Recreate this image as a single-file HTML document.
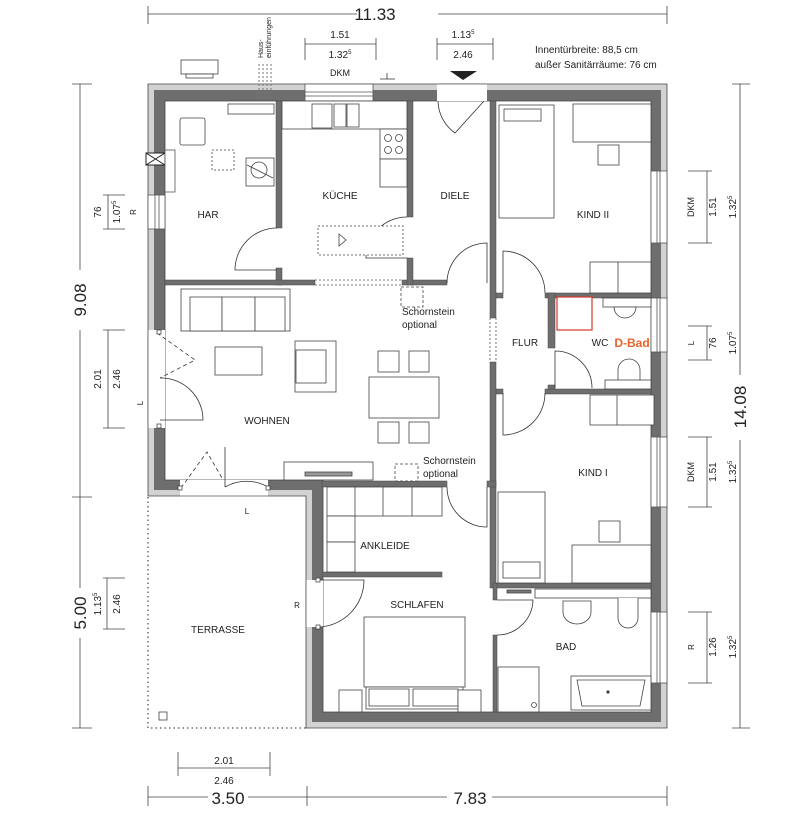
<!DOCTYPE html>
<html><head><meta charset="utf-8"><style>
html,body{margin:0;padding:0;background:#fff;}
svg{display:block;font-family:"Liberation Sans",sans-serif;}
</style></head><body>
<svg width="800" height="819" viewBox="0 0 800 819" xmlns="http://www.w3.org/2000/svg">
<g stroke="#444" stroke-width="0.8">
<polygon points="148,84 667,84 667,728 306,728 306,496 148,496" fill="#d2d2d2"/>
<polygon points="154,90 661,90 661,722 312,722 312,490 154,490" fill="#6e6e6e" stroke="none"/>
<polygon points="165,101 651,101 651,712 323,712 323,480 165,480" fill="#fff"/>
</g>
<g fill="#fff" stroke="#555" stroke-width="0.8">
<rect x="148" y="195" width="17" height="34"/>
<line x1="155" y1="195" x2="155" y2="229"/><line x1="159" y1="195" x2="159" y2="229"/>
<rect x="148" y="330" width="17" height="98" stroke="none"/>
<line x1="148" y1="330" x2="148" y2="428"/>
<rect x="180" y="480" width="88" height="17" stroke="none"/>
<line x1="180" y1="496" x2="268" y2="496"/>
<rect x="305" y="84" width="68" height="17"/>
<line x1="305" y1="92" x2="373" y2="92"/><line x1="305" y1="96" x2="373" y2="96"/>
<rect x="437" y="84" width="50" height="17" stroke="none"/>
<line x1="437" y1="84" x2="487" y2="84"/>
<rect x="651" y="171" width="16" height="72"/>
<rect x="651" y="298" width="16" height="54"/>
<rect x="651" y="437" width="16" height="70"/>
<rect x="651" y="612" width="16" height="71"/>
<line x1="657" y1="171" x2="657" y2="243"/><line x1="660" y1="171" x2="660" y2="243"/>
<line x1="657" y1="298" x2="657" y2="352"/><line x1="660" y1="298" x2="660" y2="352"/>
<line x1="657" y1="437" x2="657" y2="507"/><line x1="660" y1="437" x2="660" y2="507"/>
<line x1="657" y1="612" x2="657" y2="683"/><line x1="660" y1="612" x2="660" y2="683"/>
<rect x="306" y="580" width="17" height="47" stroke="none"/>
<line x1="306" y1="580" x2="306" y2="627"/>
</g>
<rect x="146" y="153" width="19" height="12" fill="#fff" stroke="#222"/>
<path d="M146,153 L165,165 M146,165 L165,153" stroke="#222" stroke-width="1"/>
<rect x="165" y="150" width="10" height="42" fill="#fff" stroke="#555" stroke-width="0.8"/>
<g fill="#6e6e6e" stroke="#444" stroke-width="0.5">
<rect x="276" y="101" width="6" height="127"/>
<rect x="276" y="268" width="6" height="17"/>
<rect x="165" y="280" width="150" height="5"/>
<rect x="402" y="280" width="45" height="5"/>
<rect x="407" y="101" width="6" height="116"/>
<rect x="407" y="258" width="6" height="27"/>
<rect x="490" y="101" width="6" height="217"/>
<rect x="490" y="362" width="6" height="226"/>
<rect x="545" y="293" width="106" height="5"/>
<rect x="496" y="293" width="7" height="5"/>
<rect x="548" y="293" width="7" height="55"/>
<rect x="548" y="385" width="7" height="8"/>
<rect x="545" y="389" width="106" height="5"/>
<rect x="496" y="389" width="7" height="5"/>
<rect x="496" y="583" width="155" height="5"/>
<rect x="493" y="583" width="4" height="17"/>
<rect x="493" y="635" width="4" height="77"/>
<rect x="322" y="481" width="125" height="6"/>
<rect x="487" y="481" width="9" height="6"/>
<rect x="322" y="572" width="120" height="5"/>
</g>
<g stroke="#555" stroke-width="0.8" stroke-dasharray="2,2" fill="none">
<line x1="315" y1="280" x2="402" y2="280"/><line x1="315" y1="285" x2="402" y2="285"/>
<line x1="490" y1="318" x2="490" y2="362"/><line x1="496" y1="318" x2="496" y2="362"/>
</g>
<polyline points="148,497 148,728 306,728" fill="none" stroke="#555" stroke-width="1.3" stroke-dasharray="1.5,3"/>
<g fill="none" stroke="#333" stroke-width="0.8">
<path d="M277,228 A42,42 0 0 0 235,270 L277,270"/>
<path d="M407,217 A41,41 0 0 0 366,258 L407,258"/>
<path d="M447,283 A40,40 0 0 1 487,243 L487,283"/>
<path d="M438,101 A40,40 0 0 0 455,133 L484,101"/>
<path d="M503,293 L503,251 A42,42 0 0 1 545,293"/>
<path d="M555,388 L555,351 A37,37 0 0 1 592,388"/>
<path d="M545,393 A42,42 0 0 1 503,435 L503,393"/>
<path d="M447,487 A40,40 0 0 0 487,527 L487,487"/>
<path d="M497,635 A36,36 0 0 0 533,600 L497,600"/>
<path d="M317,627 A47,47 0 0 0 364,580 L317,580"/>
<path d="M160,378 A42,42 0 0 1 203,420 L160,420"/>
<path d="M268,487 A43,43 0 0 0 225,487"/>
<path d="M225,487 L225,447" />
<path d="M157,333 L195,360 L160,378" stroke-dasharray="4,3"/>
<path d="M181,488 L207,452 L222,478" stroke-dasharray="4,3"/>
</g>
<g fill="#fff" stroke="#333" stroke-width="0.7">
<rect x="157" y="330" width="4" height="4"/><rect x="157" y="424" width="4" height="4"/>
<rect x="178" y="486" width="4" height="4"/><rect x="266" y="486" width="4" height="4"/>
<rect x="316" y="578" width="4" height="4"/><rect x="316" y="625" width="4" height="4"/>
</g>
<g fill="#fff" stroke="#444" stroke-width="0.8">
<rect x="180" y="118" width="25" height="27" rx="2"/>
<rect x="212" y="150" width="22" height="20" stroke-dasharray="2,2"/>
<rect x="246" y="158" width="28" height="28"/>
<circle cx="259" cy="170" r="8"/>
<line x1="247" y1="165" x2="273" y2="178"/>
<rect x="228" y="104" width="46" height="10"/>
<rect x="282" y="101" width="125" height="28"/>
<rect x="312" y="104" width="20" height="24"/>
<rect x="334" y="104" width="12" height="23"/><rect x="347" y="104" width="12" height="23"/>
<rect x="380" y="129" width="27" height="30"/>
<circle cx="388" cy="138" r="3.5"/><circle cx="399" cy="138" r="3.5"/>
<circle cx="388" cy="150" r="3.5"/><circle cx="399" cy="150" r="3.5"/>
<rect x="380" y="159" width="27" height="28"/>
<rect x="318" y="226" width="85" height="29" stroke-dasharray="2,2"/>
<path d="M339,234 L346,240 L339,246 Z"/>
<rect x="181" y="289" width="109" height="42"/>
<rect x="190" y="297" width="32" height="34"/><rect x="222" y="297" width="33" height="34"/><rect x="255" y="297" width="30" height="34"/>
<rect x="215" y="347" width="47" height="28"/>
<rect x="295" y="341" width="41" height="51"/>
<rect x="296" y="350" width="30" height="33"/>
<rect x="369" y="377" width="70" height="41"/>
<rect x="378" y="351" width="21" height="21"/><rect x="409" y="351" width="20" height="21"/>
<rect x="378" y="422" width="21" height="21"/><rect x="409" y="422" width="20" height="21"/>
<rect x="284" y="462" width="89" height="18"/>
<rect x="305" y="472" width="47" height="4" fill="#999"/>
<rect x="401" y="287" width="22" height="20" stroke-dasharray="3,2"/>
<rect x="395" y="464" width="23" height="17" stroke-dasharray="3,2"/>
<rect x="499" y="105" width="55" height="113"/>
<rect x="504" y="109" width="37" height="12"/>
<rect x="573" y="104" width="78" height="38"/>
<rect x="598" y="145" width="21" height="20"/>
<rect x="590" y="262" width="61" height="31"/><line x1="618" y1="262" x2="618" y2="293"/>
<rect x="557" y="297" width="35" height="33" stroke="#d63a2a" stroke-width="1.2"/>
<rect x="603" y="298" width="48" height="9"/>
<path d="M614,307 L636,307 A11,11 0 0 1 614,307 Z"/>
<path d="M618,388 L618,370 A11,11 0 0 1 640,370 L640,388"/>
<rect x="605" y="380" width="46" height="9"/>
<rect x="590" y="395" width="64" height="30"/><line x1="617" y1="395" x2="617" y2="425"/>
<rect x="498" y="492" width="47" height="91"/>
<rect x="503" y="562" width="37" height="16"/>
<rect x="599" y="521" width="21" height="21"/>
<rect x="572" y="545" width="79" height="38"/>
<rect x="327" y="487" width="115" height="29"/>
<line x1="355" y1="487" x2="355" y2="516"/><line x1="383" y1="487" x2="383" y2="516"/><line x1="412" y1="487" x2="412" y2="516"/>
<rect x="327" y="516" width="28" height="26"/><rect x="327" y="542" width="28" height="30"/>
<rect x="364" y="617" width="101" height="70"/>
<rect x="366" y="687" width="97" height="22"/>
<rect x="369" y="689" width="40" height="17"/><rect x="413" y="689" width="45" height="17"/>
<rect x="339" y="690" width="23" height="22"/><rect x="458" y="690" width="23" height="22"/>
<rect x="535" y="589" width="116" height="9"/>
<rect x="507" y="590" width="24" height="3" fill="#777"/>
<path d="M563,601 L591,601 L591,612 A14,12 0 0 1 563,612 Z"/>
<path d="M618,598 L618,618 A10,10 0 0 0 638,618 L638,598"/>
<rect x="498" y="667" width="41" height="45"/>
<circle cx="534" cy="705" r="2.5"/>
<rect x="571" y="676" width="80" height="34"/>
<path d="M577,680 L645,680 L640,706 L582,706 Z"/>
<circle cx="608" cy="692" r="1.2" fill="#333"/>
<rect x="159" y="712" width="8" height="8"/>
</g>
<rect x="181" y="60" width="37" height="14" fill="#fff" stroke="#444" stroke-width="0.8"/>
<rect x="186" y="74" width="27" height="4" fill="#fff" stroke="#444" stroke-width="0.8"/>
<g stroke="#777" stroke-width="1" stroke-dasharray="2,2">
<line x1="259" y1="64" x2="259" y2="100"/><line x1="263" y1="64" x2="263" y2="100"/>
<line x1="267" y1="64" x2="267" y2="100"/><line x1="271" y1="64" x2="271" y2="100"/>
</g>
<path d="M450,71 L477,71 L463,80 Z" fill="#222"/>
<path d="M380,79 L395,79 M387,73 L387,79" stroke="#333" stroke-width="0.8"/>
<g stroke="#444" stroke-width="0.8" fill="none">
<line x1="148" y1="14" x2="357" y2="14"/><line x1="438" y1="14" x2="667" y2="14"/>
<line x1="148" y1="6" x2="148" y2="24"/><line x1="667" y1="6" x2="667" y2="24"/>
<line x1="305" y1="44" x2="376" y2="44"/><line x1="305" y1="38" x2="305" y2="60"/><line x1="376" y1="38" x2="376" y2="60"/>
<line x1="437" y1="44" x2="493" y2="44"/><line x1="437" y1="38" x2="437" y2="60"/><line x1="493" y1="38" x2="493" y2="60"/>
<line x1="80" y1="84" x2="80" y2="270"/><line x1="80" y1="330" x2="80" y2="588"/><line x1="80" y1="638" x2="80" y2="728"/>
<line x1="72" y1="84" x2="92" y2="84"/><line x1="72" y1="497" x2="92" y2="497"/><line x1="72" y1="728" x2="92" y2="728"/>
<line x1="108" y1="195" x2="108" y2="229"/><line x1="103" y1="195" x2="125" y2="195"/><line x1="103" y1="229" x2="125" y2="229"/>
<line x1="108" y1="330" x2="108" y2="428"/><line x1="103" y1="330" x2="125" y2="330"/><line x1="103" y1="428" x2="125" y2="428"/>
<line x1="107" y1="578" x2="107" y2="629"/><line x1="103" y1="578" x2="125" y2="578"/><line x1="103" y1="629" x2="125" y2="629"/>
<line x1="740" y1="84" x2="740" y2="375"/><line x1="740" y1="440" x2="740" y2="728"/>
<line x1="732" y1="84" x2="750" y2="84"/><line x1="732" y1="728" x2="750" y2="728"/>
<line x1="707" y1="171" x2="707" y2="243"/><line x1="688" y1="171" x2="712" y2="171"/><line x1="688" y1="243" x2="712" y2="243"/>
<line x1="707" y1="326" x2="707" y2="360"/><line x1="688" y1="326" x2="712" y2="326"/><line x1="688" y1="360" x2="712" y2="360"/>
<line x1="707" y1="437" x2="707" y2="507"/><line x1="688" y1="437" x2="712" y2="437"/><line x1="688" y1="507" x2="712" y2="507"/>
<line x1="707" y1="612" x2="707" y2="683"/><line x1="688" y1="612" x2="712" y2="612"/><line x1="688" y1="683" x2="712" y2="683"/>
<line x1="178" y1="768" x2="270" y2="768"/><line x1="178" y1="752" x2="178" y2="776"/><line x1="270" y1="752" x2="270" y2="776"/>
<line x1="148" y1="797" x2="208" y2="797"/><line x1="248" y1="797" x2="447" y2="797"/><line x1="492" y1="797" x2="667" y2="797"/>
<line x1="148" y1="786" x2="148" y2="806"/><line x1="307" y1="786" x2="307" y2="806"/><line x1="667" y1="786" x2="667" y2="806"/>
</g>
<g fill="#222" font-size="10" text-anchor="middle">
<text x="375" y="20" font-size="17">11.33</text>
<text x="340" y="38">1.51</text>
<text x="340" y="58">1.32<tspan font-size="6" dy="-4">5</tspan></text>
<text x="463" y="38">1.13<tspan font-size="6" dy="-4">5</tspan></text>
<text x="463" y="58">2.46</text>
<text x="340" y="76" font-size="9">DKM</text>
<text x="535" y="53" text-anchor="start">Innentürbreite: 88,5 cm</text>
<text x="535" y="68" text-anchor="start">außer Sanitärräume: 76 cm</text>
<text transform="translate(263,58) rotate(-90)" font-size="7" text-anchor="start">Haus-</text>
<text transform="translate(271,58) rotate(-90)" font-size="7" text-anchor="start">einführungen</text>
<text transform="translate(86,300) rotate(-90)" font-size="17">9.08</text>
<text transform="translate(86,613) rotate(-90)" font-size="17">5.00</text>
<text transform="translate(746,407) rotate(-90)" font-size="17">14.08</text>
<text transform="translate(101,212) rotate(-90)">76</text>
<text transform="translate(120,212) rotate(-90)">1.07<tspan font-size="6" dy="-4">5</tspan></text>
<text transform="translate(136,212) rotate(-90)" font-size="8">R</text>
<text transform="translate(101,379) rotate(-90)">2.01</text>
<text transform="translate(120,379) rotate(-90)">2.46</text>
<text transform="translate(143,403) rotate(-90)" font-size="8">L</text>
<text transform="translate(101,604) rotate(-90)">1.13<tspan font-size="6" dy="-4">5</tspan></text>
<text transform="translate(120,604) rotate(-90)">2.46</text>
<text transform="translate(694,207) rotate(-90)" font-size="9">DKM</text>
<text transform="translate(716,207) rotate(-90)">1.51</text>
<text transform="translate(736,207) rotate(-90)">1.32<tspan font-size="6" dy="-4">5</tspan></text>
<text transform="translate(694,343) rotate(-90)" font-size="8">L</text>
<text transform="translate(716,343) rotate(-90)">76</text>
<text transform="translate(736,343) rotate(-90)">1.07<tspan font-size="6" dy="-4">5</tspan></text>
<text transform="translate(694,472) rotate(-90)" font-size="9">DKM</text>
<text transform="translate(716,472) rotate(-90)">1.51</text>
<text transform="translate(736,472) rotate(-90)">1.32<tspan font-size="6" dy="-4">5</tspan></text>
<text transform="translate(694,647) rotate(-90)" font-size="8">R</text>
<text transform="translate(716,647) rotate(-90)">1.26</text>
<text transform="translate(736,647) rotate(-90)">1.32<tspan font-size="6" dy="-4">5</tspan></text>
<text x="224" y="764">2.01</text>
<text x="224" y="784">2.46</text>
<text x="228" y="804" font-size="17">3.50</text>
<text x="470" y="804" font-size="17">7.83</text>
<text x="208" y="218">HAR</text>
<text x="340" y="199">KÜCHE</text>
<text x="455" y="199">DIELE</text>
<text x="593" y="218">KIND II</text>
<text x="525" y="346">FLUR</text>
<text x="600" y="346">WC</text>
<text x="632" y="347" font-size="12" font-weight="bold" fill="#e8642a">D-Bad</text>
<text x="267" y="424">WOHNEN</text>
<text x="402" y="315" text-anchor="start">Schornstein</text>
<text x="402" y="328" text-anchor="start">optional</text>
<text x="423" y="464" text-anchor="start">Schornstein</text>
<text x="423" y="477" text-anchor="start">optional</text>
<text x="593" y="476">KIND I</text>
<text x="385" y="549">ANKLEIDE</text>
<text x="417" y="608">SCHLAFEN</text>
<text x="566" y="650">BAD</text>
<text x="218" y="633">TERRASSE</text>
<text x="247" y="514" font-size="8">L</text>
<text x="297" y="608" font-size="8">R</text>
</g>
</svg>
</body></html>
